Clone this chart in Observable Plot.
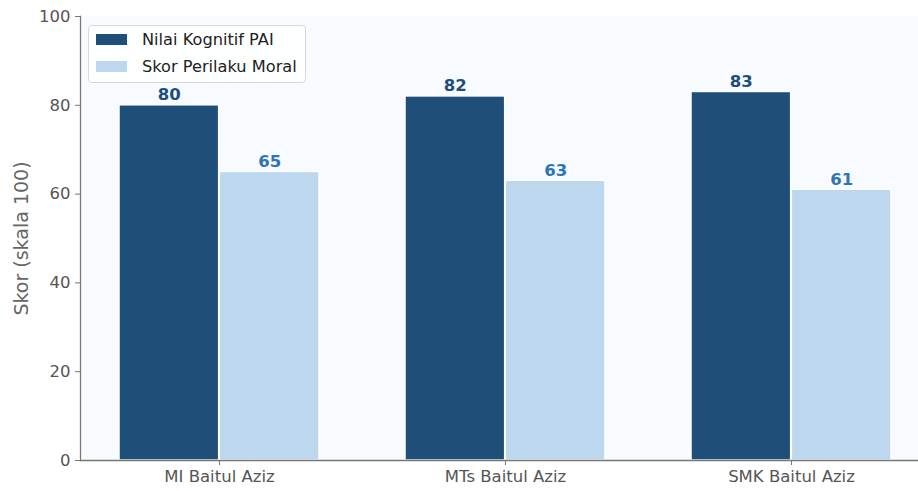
<!DOCTYPE html>
<html><head><meta charset="utf-8">
<script src="https://cdn.jsdelivr.net/npm/d3@7"></script>
<script src="https://cdn.jsdelivr.net/npm/@observablehq/plot@0.6"></script>
<style>
body{margin:0;background:#fff;font-family:"DejaVu Sans",sans-serif;}
#wrap{position:relative;width:918px;height:491px;}
#legend{position:absolute;left:88px;top:25px;width:218px;height:58px;box-sizing:border-box;border:1px solid #d9d9d9;border-radius:4px;background:rgba(255,255,255,0.85);font-size:16.2px;color:#222;}
.row{position:absolute;left:7px;display:flex;align-items:center;}
.sw{width:31px;height:11px;margin-right:15px;}
</style></head><body>
<div id="wrap"><div id="legend"></div></div>
<script>
const categories = ["MI Baitul Aziz", "MTs Baitul Aziz", "SMK Baitul Aziz"];
const seriesNames = ["Nilai Kognitif PAI", "Skor Perilaku Moral"];
const kognitif = [80, 82, 83];
const moral = [65, 63, 61];
const yTicks = [0, 20, 40, 60, 80, 100];
const colors = ["#1f4e79", "#bdd7ee"];
const labelColors = ["#1f4e79", "#2e75b6"];

const data = [];
categories.forEach((c, i) => {
  data.push({cat: c, series: seriesNames[0], value: kognitif[i]});
  data.push({cat: c, series: seriesNames[1], value: moral[i]});
});
const A = data.filter(d => d.series === seriesNames[0]);
const B = data.filter(d => d.series === seriesNames[1]);

const W = 918, H = 491;
const xRange = [75, 935];
const step = (xRange[1] - xRange[0]) / categories.length;

const chart = Plot.plot({
  width: W, height: H,
  marginLeft: 80, marginRight: 0, marginTop: 16, marginBottom: 31,
  style: {fontFamily: "DejaVu Sans, sans-serif", fontSize: "16px", color: "#555", background: "transparent", overflow: "visible"},
  x: {domain: categories, range: xRange, padding: 0, label: null},
  y: {domain: [0, 100], label: null},
  marks: [
    Plot.frame({fill: "#f7faff", stroke: null}),
    Plot.barY(A, {x: "cat", y: "value", fill: colors[0], stroke: "white", strokeWidth: 1.5, insetLeft: step * 0.15, insetRight: step * 0.5}),
    Plot.barY(B, {x: "cat", y: "value", fill: colors[1], stroke: "white", strokeWidth: 1.5, insetLeft: step * 0.5, insetRight: step * 0.15}),
    Plot.text(A, {x: "cat", y: "value", text: d => String(d.value), dx: -step * 0.175, dy: -5, lineAnchor: "bottom", fill: labelColors[0], fontWeight: "bold", fontSize: 16.5}),
    Plot.text(B, {x: "cat", y: "value", text: d => String(d.value), dx: step * 0.175, dy: -5, lineAnchor: "bottom", fill: labelColors[1], fontWeight: "bold", fontSize: 16.5}),
    Plot.axisY({ticks: yTicks, tickSize: 5, tickPadding: 5, stroke: "#777", fill: "#555", fontSize: 16.5, label: "Skor (skala 100)", labelAnchor: "center", labelArrow: "none", labelOffset: 66}),
    Plot.axisX({tickSize: 5, tickPadding: 5, stroke: "#777", fill: "#555", fontSize: 16.5, label: null}),
    Plot.frame({anchor: "left", stroke: "#777", strokeWidth: 1.3}),
    Plot.ruleY([0], {stroke: "#777", strokeWidth: 1.3})
  ]
});
document.getElementById("wrap").prepend(chart);

d3.select(chart).selectAll("g[aria-label='y-axis label'] text").attr("font-size", 19).attr("fill", "#666");

const leg = document.getElementById("legend");
seriesNames.forEach((s, i) => {
  const r = document.createElement("div");
  r.className = "row";
  r.style.top = (i === 0 ? 4 : 31) + "px";
  r.innerHTML = `<div class="sw" style="background:${colors[i]}"></div><span>${s}</span>`;
  leg.appendChild(r);
});
</script>
</body></html>
